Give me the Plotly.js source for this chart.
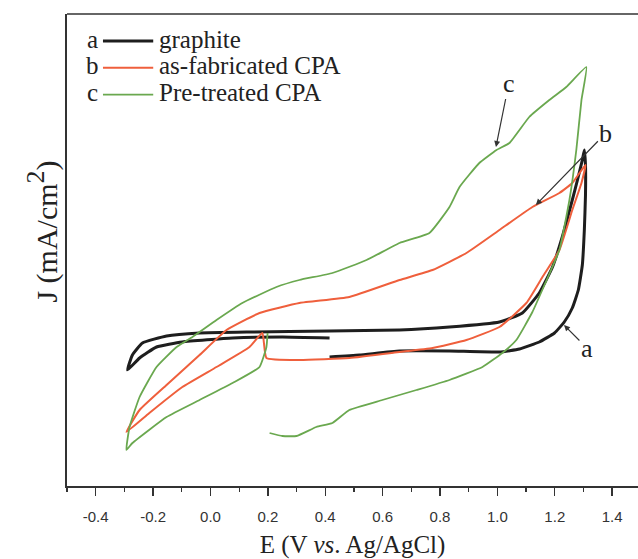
<!DOCTYPE html>
<html>
<head>
<meta charset="utf-8">
<script src="https://cdn.plot.ly/plotly-3.0.1.min.js"></script>
<style>
  html, body { margin: 0; padding: 0; background: #fff; }
  #chart { width: 638px; height: 559px; }
</style>
</head>
<body>
<div id="chart"></div>
<script>
// ---- data (E in V vs. Ag/AgCl, J in arbitrary mA/cm2 units) ----
const seriesLetters = ['a', 'b', 'c'];
const seriesNames = ['graphite', 'as-fabricated CPA', 'Pre-treated CPA'];
const seriesColors = ['#1e1e1e', '#ef5f3c', '#6aa84f'];
const seriesWidths = [3, 2, 1.8];

const graphiteE = [0.415, 0.519, 0.659, 0.833, 1.007, 1.077, 1.146, 1.199, 1.233, 1.261, 1.282, 1.296, 1.303, 1.307, 1.307, 1.303,
  1.296, 1.279, 1.261, 1.226, 1.192, 1.146, 1.087, 1.007, 0.833, 0.659, 0.415, 0.136, -0.038, -0.153, -0.237, -0.272, -0.289,
  -0.247, -0.188, -0.098, 0.077, 0.251, 0.415];
const graphiteJ = [1.29, 1.31, 1.35, 1.35, 1.34, 1.37, 1.44, 1.53, 1.64, 1.78, 1.96, 2.21, 2.56, 2.91, 3.21, 3.36,
  3.26, 3.06, 2.86, 2.49, 2.19, 1.93, 1.73, 1.64, 1.59, 1.56, 1.55, 1.54, 1.53, 1.50, 1.43, 1.31, 1.16,
  1.28, 1.39, 1.44, 1.48, 1.49, 1.48];

const asFabE = [0.181, 0.195, 0.310, 0.484, 0.659, 0.774, 0.892, 1.007, 1.101, 1.157, 1.216, 1.261, 1.293, 1.307,
  1.261, 1.216, 1.122, 1.007, 0.892, 0.774, 0.659, 0.484, 0.310, 0.171, 0.056, -0.038, -0.153, -0.247, -0.293,
  -0.213, -0.098, 0.021, 0.136, 0.181];
const asFabJ = [1.53, 1.28, 1.26, 1.28, 1.34, 1.38, 1.46, 1.59, 1.83, 2.09, 2.36, 2.76, 3.03, 3.21,
  3.03, 2.93, 2.79, 2.56, 2.33, 2.16, 2.06, 1.89, 1.83, 1.73, 1.56, 1.31, 1.01, 0.76, 0.54,
  0.73, 0.99, 1.19, 1.39, 1.53];

const preTreatE = [0.206, 0.251, 0.300, 0.369, 0.425, 0.484, 0.599, 0.718, 0.833, 0.948, 1.017, 1.066, 1.122, 1.164,
  1.216, 1.251, 1.275, 1.293, 1.310, 1.240, 1.181, 1.111, 1.042, 0.997, 0.937, 0.868, 0.833, 0.763, 0.659, 0.544,
  0.425, 0.310, 0.230, 0.111, 0.021, -0.063, -0.118, -0.188, -0.247, -0.282, -0.293, -0.272, -0.153, -0.038, 0.077,
  0.171, 0.195, 0.199];
const preTreatJ = [0.53, 0.50, 0.50, 0.59, 0.63, 0.76, 0.86, 0.96, 1.06, 1.19, 1.33, 1.46, 1.74, 2.01,
  2.36, 2.86, 3.36, 3.86, 4.19, 3.99, 3.86, 3.69, 3.43, 3.36, 3.23, 2.99, 2.79, 2.53, 2.43, 2.26,
  2.13, 2.06, 1.99, 1.83, 1.66, 1.49, 1.39, 1.19, 0.89, 0.59, 0.36, 0.43, 0.69, 0.86, 1.03,
  1.19, 1.39, 1.53];

const xTickVals = [-0.4, -0.2, 0.0, 0.2, 0.4, 0.6, 0.8, 1.0, 1.2, 1.4];
const xTickText = ['-0.4', '-0.2', '0.0', '0.2', '0.4', '0.6', '0.8', '1.0', '1.2', '1.4'];

// curve labels with arrows
const calloutLetters = ['a', 'b', 'c'];
const calloutTipE = [1.232, 1.134, 0.995];
const calloutTipJ = [1.61, 2.81, 3.39];
const calloutTextE = [1.312, 1.378, 1.040];
const calloutTextJ = [1.38, 3.53, 4.03];

// ---- build ----
const xs = [graphiteE, asFabE, preTreatE];
const ys = [graphiteJ, asFabJ, preTreatJ];
const traces = xs.map((x, i) => ({
  type: 'scatter', mode: 'lines', x: x, y: ys[i], name: seriesNames[i],
  line: { color: seriesColors[i], width: seriesWidths[i], shape: 'spline', smoothing: 0.4 },
  showlegend: false, hoverinfo: 'skip'
}));

const serif = 'Liberation Serif, Times New Roman, serif';
const annotations = [];
const shapes = [];

// top frame line
shapes.push({ type: 'line', xref: 'paper', yref: 'paper', x0: 0, x1: 1, y0: 1, y1: 1,
  line: { color: '#333', width: 1.6 } });

// custom legend  "a ——— graphite"
const legY = [0.947, 0.890, 0.833];
seriesNames.forEach((n, i) => {
  annotations.push({ xref: 'paper', yref: 'paper', x: 0.044, y: legY[i], text: seriesLetters[i],
    showarrow: false, xanchor: 'center', yanchor: 'middle', font: { family: serif, size: 25, color: '#222' } });
  shapes.push({ type: 'line', xref: 'paper', yref: 'paper', x0: 0.063, x1: 0.151, y0: legY[i] - 0.004, y1: legY[i] - 0.004,
    line: { color: seriesColors[i], width: seriesWidths[i] } });
  annotations.push({ xref: 'paper', yref: 'paper', x: 0.158, y: legY[i], text: n,
    showarrow: false, xanchor: 'left', yanchor: 'middle', font: { family: serif, size: 25, color: '#222' } });
});

calloutLetters.forEach((l, i) => {
  annotations.push({ x: calloutTipE[i], y: calloutTipJ[i], ax: calloutTextE[i], ay: calloutTextJ[i],
    axref: 'x', ayref: 'y', xref: 'x', yref: 'y', text: l, showarrow: true,
    arrowhead: 2, arrowsize: 1, arrowwidth: 1.2, arrowcolor: '#333', standoff: 0,
    font: { family: serif, size: 26, color: '#222' } });
});

// y-axis title (placed as rotated text to match its position in the figure)
annotations.push({ xref: 'paper', yref: 'paper', x: -0.043, y: 0.54, xanchor: 'center', yanchor: 'middle',
  textangle: -90, showarrow: false,
  text: 'J (mA/cm<sup><span style="font-size:26px">2</span></sup>)',
  font: { family: serif, size: 30, color: '#222' } });

const layout = {
  width: 638, height: 559,
  margin: { l: 67, r: 0, t: 14, b: 73 },
  paper_bgcolor: '#fff', plot_bgcolor: '#fff',
  showlegend: false,
  xaxis: {
    range: [-0.5, 1.49], showgrid: false, zeroline: false,
    showline: true, linecolor: '#333', linewidth: 1.6,
    tickmode: 'array', tickvals: xTickVals, ticktext: xTickText,
    ticks: 'outside', ticklen: 8, tickwidth: 1.4, tickcolor: '#333',
    ticklabelstandoff: 8,
    minor: { tickmode: 'linear', tick0: -0.5, dtick: 0.1, ticks: 'outside', ticklen: 4, tickwidth: 1.2, tickcolor: '#333' },
    tickfont: { family: 'Liberation Sans, Arial, sans-serif', size: 15, color: '#333' },
    title: { text: 'E (V <i>vs</i>. Ag/AgCl)', font: { family: serif, size: 25, color: '#222' }, standoff: 15 }
  },
  yaxis: {
    range: [0, 4.72], showgrid: false, zeroline: false,
    showline: true, linecolor: '#333', linewidth: 1.6,
    showticklabels: false, ticks: ''
  },
  annotations: annotations,
  shapes: shapes
};

Plotly.newPlot('chart', traces, layout, { displayModeBar: false, staticPlot: true });
</script>
</body>
</html>
